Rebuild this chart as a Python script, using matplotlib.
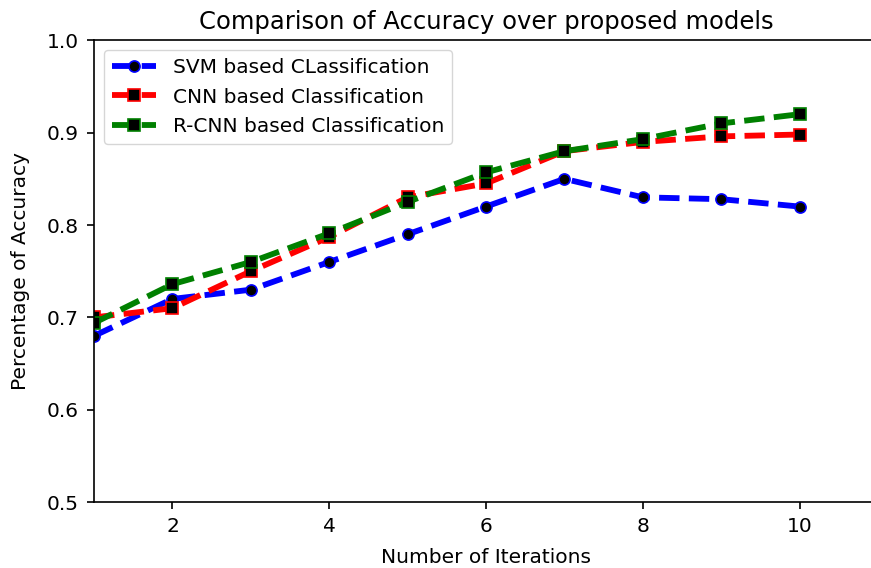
import matplotlib
matplotlib.use("Agg")
import matplotlib.pyplot as plt

# values
iterations = [1, 2, 3, 4, 5, 6, 7, 8, 9, 10]
svm_acc = [0.68, 0.72, 0.73, 0.76, 0.79, 0.82, 0.85, 0.83, 0.828, 0.82]
cnn_acc = [0.70, 0.71, 0.75, 0.787, 0.83, 0.845, 0.88, 0.89, 0.896, 0.898]
rcnn_acc = [0.694, 0.736, 0.76, 0.791, 0.825, 0.857, 0.88, 0.893, 0.91, 0.92]

labels = ["SVM based CLassification", "CNN based Classification",
          "R-CNN based Classification"]

fig = plt.figure(figsize=(8.71, 5.68), dpi=100)
ax = fig.add_axes([0.108, 0.116, 0.900, 0.813])

style = dict(lw=4.2, ms=8, mfc="black", mew=1.2, dashes=(3.5, 1.6))
ax.plot(iterations, svm_acc, "--o", color="blue", mec="blue",
        label=labels[0], **style)
ax.plot(iterations, cnn_acc, "--s", color="red", mec="red",
        label=labels[1], **style)
ax.plot(iterations, rcnn_acc, "--s", color="green", mec="green",
        label=labels[2], **style)

ax.set_xlim(1, 11)
ax.set_ylim(0.5, 1.0)
ax.set_xticks([2, 4, 6, 8, 10])
ax.set_yticks([0.5, 0.6, 0.7, 0.8, 0.9, 1.0])
ax.tick_params(labelsize=14.5, length=5, width=1.2, pad=6)
for sp in ax.spines.values():
    sp.set_linewidth(1.2)
# the reference is cut off on the right, no right spine visible
ax.spines["right"].set_visible(False)

ax.set_title("Comparison of Accuracy over proposed models", fontsize=17.5, pad=8)
ax.set_xlabel("Number of Iterations", fontsize=14.5, labelpad=8)
ax.set_ylabel("Percentage of Accuracy", fontsize=14.5, labelpad=12)
ax.legend(loc="upper left", fontsize=14.5, handlelength=2.2)

fig.savefig("out.png", dpi=100)
